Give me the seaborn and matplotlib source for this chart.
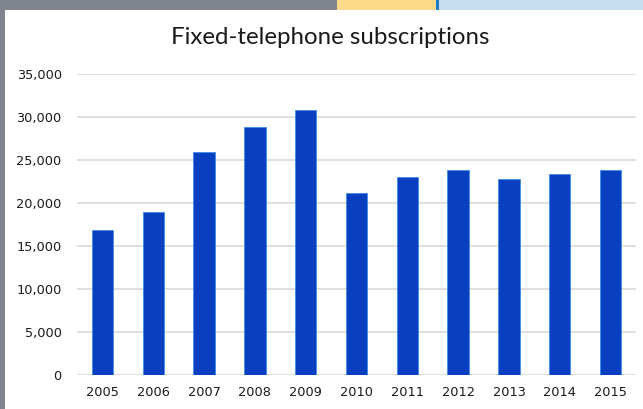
import matplotlib
matplotlib.use("Agg")
import matplotlib.pyplot as plt
import seaborn as sns
import pandas as pd
from matplotlib.patches import Rectangle
from matplotlib.ticker import FuncFormatter

years = ["2005", "2006", "2007", "2008", "2009", "2010", "2011", "2012", "2013", "2014", "2015"]
subscriptions = [16900, 19000, 25900, 28800, 30800, 21200, 23000, 23800, 22800, 23400, 23800]
title = "Fixed-telephone subscriptions"

df = pd.DataFrame({"year": years, "subs": subscriptions})

sns.set_theme(style="white")
plt.rcParams["font.family"] = ["DejaVu Sans"]

fig = plt.figure(figsize=(6.43, 4.09), dpi=100)
fig.patch.set_facecolor("#80848c")
W, H = 643, 409
for (x0, y0, w, h, c) in [
    (5, 10, 643, 409, "white"),
    (337, 0, 100, 10, "#fdd98a"),
    (439, 0, 204, 10, "#c6dff0"),
    (436, 0, 3, 10, "#1a7fc8"),
]:
    fig.add_artist(Rectangle((x0 / W, 1 - (y0 + h) / H), w / W, h / H,
                             transform=fig.transFigure, facecolor=c,
                             edgecolor="none", zorder=-10))

ax = fig.add_axes([77 / W, 1 - 375 / H, (636 - 77) / W, (375 - 74) / H])
ax.set_zorder(5)
ax.set_facecolor("none")
sns.barplot(data=df, x="year", y="subs", color="#0b3fc1", width=0.42, saturation=1,
            edgecolor="#3a8fe8", linewidth=0.6, ax=ax, zorder=3)
ax.set_xlim(-0.5, len(years) - 0.5)
ax.set_ylim(0, 35000)
ax.set_yticks(range(0, 35001, 5000))
ax.yaxis.set_major_formatter(FuncFormatter(lambda v, p: f"{int(v):,}"))
ax.grid(axis="y", color="#d9d9d9", linewidth=1.2, zorder=0)
ax.set_axisbelow(True)
for s in ax.spines.values():
    s.set_visible(False)
ax.set_xlabel("")
ax.set_ylabel("")
ax.tick_params(axis="both", length=0, labelsize=9.3, colors="#1a1a1a")
ax.tick_params(axis="y", pad=11)
ax.tick_params(axis="x", pad=8)
fig.text(330 / W, 1 - 37 / H, title, ha="center", va="center", fontsize=17.3,
         color="#1a1a1a", zorder=6, family=["Lato", "DejaVu Sans"])

fig.savefig("out.png", dpi=100, facecolor=fig.get_facecolor())
